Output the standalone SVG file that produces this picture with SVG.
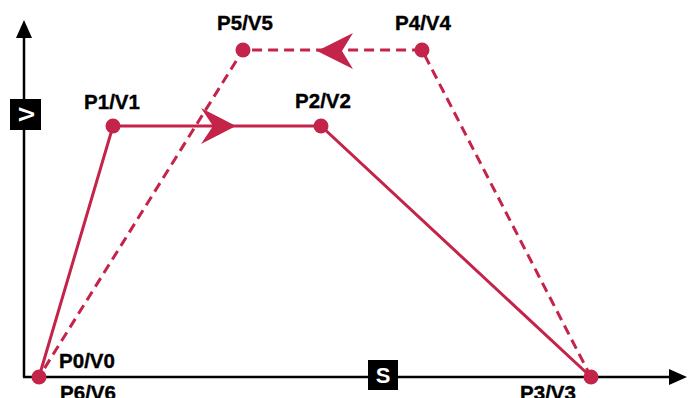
<svg xmlns="http://www.w3.org/2000/svg" width="691" height="398" viewBox="0 0 691 398">
<style>
.lbl{font-family:"Liberation Sans",Arial,sans-serif;font-weight:bold;font-size:20.5px;fill:#000;stroke:#000;stroke-width:0.4;text-anchor:middle}
.ax{stroke:#000;stroke-width:2.5;fill:none}
.solid{stroke:#C4234A;stroke-width:3;fill:none}
.dash{stroke:#C4234A;stroke-width:3;fill:none;stroke-dasharray:10 6}
.dot{fill:#C4234A}
.box{fill:#000}
.boxt{font-family:"Liberation Sans",Arial,sans-serif;font-weight:bold;font-size:22px;fill:#fff;text-anchor:middle}
</style>
<rect width="691" height="398" fill="#fff"/>
<g id="axes">
<line class="ax" x1="24" y1="377" x2="24" y2="34"/>
<polygon points="24,20 16,38 32,38" fill="#000"/>
<line class="ax" x1="23" y1="377" x2="672" y2="377"/>
<polygon points="687,377 669,369 669,385" fill="#000"/>
<g id="axis-v"><rect class="box" x="10" y="99" width="31" height="31"/><text class="boxt" transform="translate(25.5,114.5) rotate(-90)" y="8">V</text></g>
<g id="axis-s"><rect class="box" x="368" y="360" width="30" height="30"/><text class="boxt" x="383" y="383">S</text></g>
</g>
<g id="connectors">
<path class="solid" d="M39,377 L113,126 L321,126 L591,377"/>
<path class="dash" d="M591,377 L422,50 L243,50 L39,377"/>
<polygon points="236,126 201,108 213,126 201,144" fill="#C4234A"/>
<polygon points="317,51 353,33 342,51 353,69" fill="#C4234A"/>
</g>
<g id="P0"><circle class="dot" cx="39" cy="377" r="7.5"/><text class="lbl" x="87" y="368">P0/V0</text></g>
<g id="P6"><text class="lbl" x="88" y="400">P6/V6</text></g>
<g id="P1"><circle class="dot" cx="113" cy="126" r="7.5"/><text class="lbl" x="112" y="109">P1/V1</text></g>
<g id="P2"><circle class="dot" cx="321" cy="126" r="7.5"/><text class="lbl" x="323" y="108">P2/V2</text></g>
<g id="P3"><circle class="dot" cx="591" cy="377" r="7.5"/><text class="lbl" x="548" y="400">P3/V3</text></g>
<g id="P4"><circle class="dot" cx="422" cy="50" r="7.5"/><text class="lbl" x="423" y="30">P4/V4</text></g>
<g id="P5"><circle class="dot" cx="243" cy="50" r="7.5"/><text class="lbl" x="245" y="30">P5/V5</text></g>
</svg>
